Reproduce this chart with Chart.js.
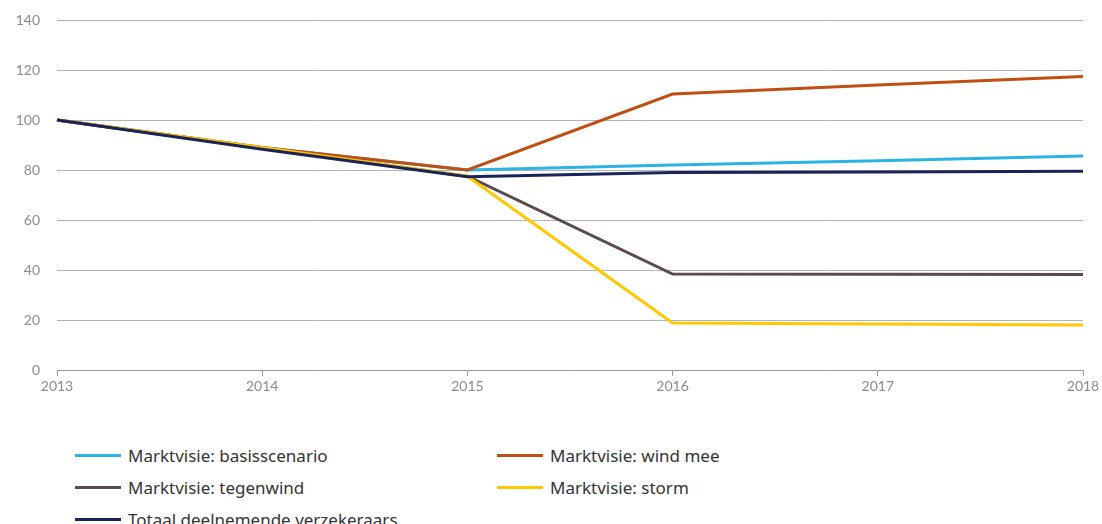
<!DOCTYPE html>
<html>
<head>
<meta charset="utf-8">
<script src="https://cdn.jsdelivr.net/npm/chart.js@4"></script>
<style>
  html, body { margin: 0; padding: 0; background: #fff; }
  #wrap { position: relative; width: 1102px; height: 524px; }
  #chart { position: absolute; left: 0; top: 0; }
  #legend { position: absolute; left: 75px; top: 443px; width: 1000px;
            display: grid; grid-template-columns: 422px 422px; row-gap: 8px;
            font-family: "Noto Sans", "Open Sans", sans-serif; font-size: 17px; color: #333; }
  .item { display: flex; align-items: center; height: 24px; }
  .swatch { width: 46px; height: 3px; margin-right: 7px; }
</style>
</head>
<body>
<div id="wrap">
  <canvas id="chart" width="1102" height="410"></canvas>
  <div id="legend"></div>
</div>
<script>
// Years on the x axis
const years = ['2013', '2014', '2015', '2016', '2017', '2018'];

// Index values (2013 = 100) per scenario
const basisscenario = [100, 89, 80, 82, 83.7, 85.6];
const windMee       = [100, 89, 80, 110.4, 114, 117.4];
const tegenwind     = [100, 88.7, 77.5, 38.4, 38.3, 38.2];
const storm         = [100, 89, 77.5, 18.8, 18.4, 18.0];
const totaal        = [100, 88.3, 77.3, 79.0, 79.2, 79.5];

const yTicks = [0, 20, 40, 60, 80, 100, 120, 140];

const labels = {
  basis: 'Marktvisie: basisscenario',
  wind: 'Marktvisie: wind mee',
  tegen: 'Marktvisie: tegenwind',
  storm: 'Marktvisie: storm',
  totaal: 'Totaal deelnemende verzekeraars'
};

const colors = {
  basis: '#2bb3e6',
  wind: '#c04f12',
  tegen: '#5b4b4a',
  storm: '#ffc800',
  totaal: '#1b2458'
};

// Lower "order" is painted later, i.e. on top
function line(label, data, color, order) {
  return {
    label, data, borderColor: color, backgroundColor: color,
    borderWidth: 3, pointRadius: 0, tension: 0, fill: false, order
  };
}

const chart = new Chart(document.getElementById('chart'), {
  type: 'line',
  data: {
    labels: years,
    datasets: [
      line(labels.basis, basisscenario, colors.basis, 4),
      line(labels.wind, windMee, colors.wind, 3),
      line(labels.tegen, tegenwind, colors.tegen, 5),
      line(labels.storm, storm, colors.storm, 2),
      line(labels.totaal, totaal, colors.totaal, 1)
    ]
  },
  options: {
    responsive: false,
    animation: false,
    layout: { padding: { top: 20, right: 19, left: 0, bottom: 0 } },
    plugins: { legend: { display: false }, tooltip: { enabled: false } },
    scales: {
      x: {
        offset: false,
        grid: { drawOnChartArea: false, drawTicks: true, tickLength: 6, color: '#9a9a9a' },
        border: { display: true, color: '#9a9a9a', width: 1 },
        ticks: { color: '#8c8c8c', font: { family: 'Lato', size: 14 }, padding: 2, maxRotation: 0 },
        afterFit(scale) { scale.height = 40; }
      },
      y: {
        min: 0, max: 140,
        afterBuildTicks(scale) { scale.ticks = yTicks.map(v => ({ value: v })); },
        grid: { drawTicks: false, color: '#b4b4b4', lineWidth: 1 },
        border: { display: false },
        ticks: { color: '#8c8c8c', font: { family: 'Lato', size: 14 }, padding: 17 },
        afterFit(scale) {
          scale.width = 57;
          scale.paddingTop = 0;
          scale.paddingBottom = 0;
        }
      }
    }
  }
});

// Two-column legend built from the chart's datasets
const legend = document.getElementById('legend');
chart.data.datasets.forEach(ds => {
  const item = document.createElement('div');
  item.className = 'item';
  const sw = document.createElement('span');
  sw.className = 'swatch';
  sw.style.background = ds.borderColor;
  const txt = document.createElement('span');
  txt.textContent = ds.label;
  item.appendChild(sw);
  item.appendChild(txt);
  legend.appendChild(item);
});
</script>
</body>
</html>
